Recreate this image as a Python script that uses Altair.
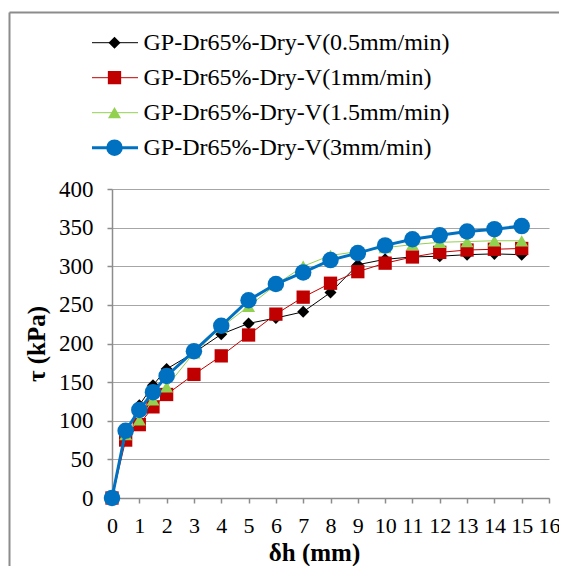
import altair as alt
import pandas as pd

# ---- data ----
dh = [0, 0.5, 1, 1.5, 2, 3, 4, 5, 6, 7, 8, 9, 10, 11, 12, 13, 14, 15]
tau_v05 = [0, 82, 120, 146, 167, 188, 212, 226, 233, 241, 266, 302, 309, 312, 313, 315, 316, 315]
tau_v1 = [0, 75, 95, 118, 134, 160, 184, 211, 238, 260, 278, 293, 304, 312, 318, 321, 322, 323]
tau_v15 = [0, 82, 101, 127, 144, 188, 221, 248, 276, 300, 314, 319, 324, 328, 331, 332, 333, 333]
tau_v3 = [0, 87, 114, 137, 158, 190, 223, 256, 277, 292, 308, 317, 327, 335, 340, 345, 348, 352]

series_names = [
    "GP-Dr65%-Dry-V(0.5mm/min)",
    "GP-Dr65%-Dry-V(1mm/min)",
    "GP-Dr65%-Dry-V(1.5mm/min)",
    "GP-Dr65%-Dry-V(3mm/min)",
]
marker_keys = ["m1", "m2", "m3", "m4"]
colors = ["#000000", "#C00000", "#92D050", "#0070C0"]
line_widths = [1, 1, 1, 3]
shapes = ["diamond", "square", "triangle-up", "circle"]
marker_sizes = [144, 177, 169, 272]

x_ticks = list(range(0, 17))
y_ticks = list(range(0, 401, 50))

rows = []
for name, key, vals in zip(series_names, marker_keys, [tau_v05, tau_v1, tau_v15, tau_v3]):
    for x, y in zip(dh, vals):
        rows.append({"series": name, "marker": key, "dh": x, "tau": y})
df = pd.DataFrame(rows)

FONT = "Liberation Serif"
AXIS_GRAY = "#8c8c8c"

x_enc = alt.X(
    "dh:Q",
    scale=alt.Scale(domain=[0, 16], nice=False),
    axis=alt.Axis(
        values=x_ticks, format="d", title="δh (mm)",
        labelFlush=False, labelOverlap=False, labelBound=False,
        labelFontSize=22, labelPadding=12, tickSize=5, grid=False,
        titleX=202, titleY=62, titleBaseline="alphabetic", titleAlign="center",
    ),
)
y_enc = alt.Y(
    "tau:Q",
    scale=alt.Scale(domain=[0, 400], nice=False),
    axis=alt.Axis(
        values=y_ticks, format="d", title="τ (kPa)",
        labelPadding=14, tickSize=5, grid=True, gridColor="#a6a6a6",
        titleX=-76, titleY=154.5, titleAngle=270,
        titleBaseline="middle", titleAlign="center",
    ),
)

line_legend = alt.Legend(
    orient="none", legendX=-9, legendY=-158.3, title=None,
    symbolType="M-2.3,0L2.3,0", symbolSize=400,
    labelFont=FONT, labelFontSize=24, labelColor="#000000", labelLimit=0,
    labelOffset=16.5, rowPadding=11, padding=0,
)
marker_legend = alt.Legend(
    orient="none", legendX=-9.5, legendY=-158.3, title=None,
    labelFont=FONT, labelFontSize=24, labelExpr="''", labelLimit=0,
    clipHeight=24, rowPadding=11, padding=0,
)

layers = []
for name, key in zip(series_names, marker_keys):
    base = alt.Chart(df).transform_filter(alt.datum.series == name)
    line = base.mark_line().encode(
        x=x_enc, y=y_enc,
        color=alt.Color("series:N", scale=alt.Scale(domain=series_names, range=colors), legend=line_legend),
        strokeWidth=alt.StrokeWidth(
            "series:N",
            scale=alt.Scale(type="ordinal", domain=series_names, range=line_widths),
            legend=line_legend,
        ),
    )
    pts = base.mark_point(filled=True, opacity=1, strokeWidth=0).encode(
        x=x_enc, y=y_enc,
        fill=alt.Fill("marker:N", scale=alt.Scale(domain=marker_keys, range=colors), legend=marker_legend),
        shape=alt.Shape("marker:N", scale=alt.Scale(domain=marker_keys, range=shapes), legend=marker_legend),
        size=alt.Size(
            "marker:N",
            scale=alt.Scale(type="ordinal", domain=marker_keys, range=marker_sizes),
            legend=marker_legend,
        ),
    )
    layers += [line, pts]

border_data = alt.Data(values=[{"k": 0}])
vborder = alt.Chart(border_data).mark_rule(color=AXIS_GRAY, strokeWidth=2).encode(
    x=alt.value(-102.5), y=alt.value(-176.5), y2=alt.value(420)
)
hborder = alt.Chart(border_data).mark_rule(color=AXIS_GRAY, strokeWidth=2).encode(
    x=alt.value(-102.5), x2=alt.value(480), y=alt.value(-176.5)
)

chart = alt.layer(vborder, hborder, *layers).properties(
    width=437, height=309,
    autosize=alt.AutoSizeParams(type="none"),
    padding={"left": 104, "top": 181, "right": 10, "bottom": 68},
    background="#ffffff",
).configure_view(stroke=None).configure_axis(
    labelFont=FONT, labelFontSize=23, labelColor="#000000",
    titleFont=FONT, titleFontSize=25, titleFontWeight="bold", titleColor="#000000",
    domainColor=AXIS_GRAY, domainWidth=1.5, tickColor=AXIS_GRAY, tickWidth=1.5,
)

chart.save("out.html", embed_options={"renderer": "svg", "actions": False})
